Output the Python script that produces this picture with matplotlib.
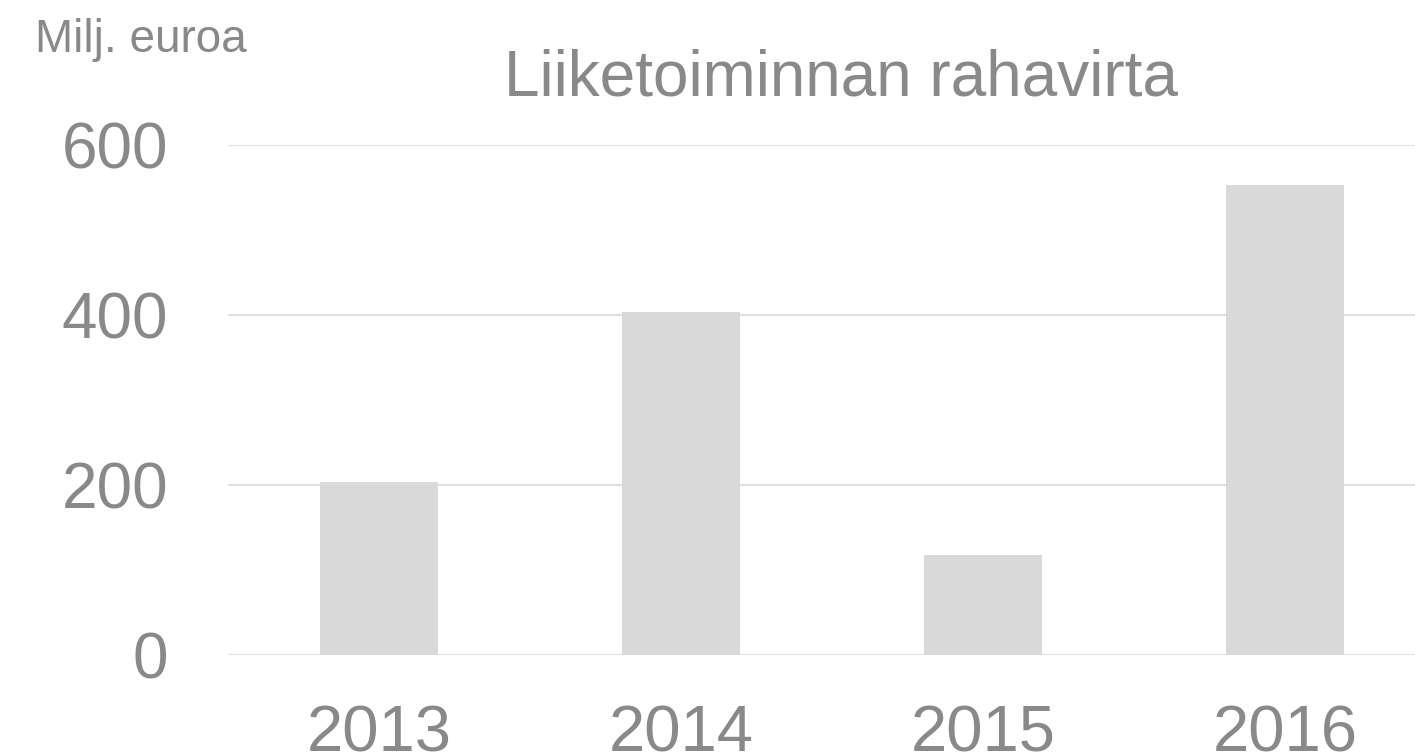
import numpy as np
import matplotlib
matplotlib.use('Agg')
from matplotlib import pyplot as plt

plt.rcParams['font.family'] = ['Liberation Sans', 'DejaVu Sans']

years = ['2013', '2014', '2015', '2016']
cash_flow = [203, 403, 118, 553]
y_ticks = [0, 200, 400, 600]

text_col = '#898989'
bar_col = '#d9d9d9'
grid_col = '#e0e0e0'

fig = plt.figure(figsize=(14.15, 7.55), dpi=100)
ax = fig.add_axes([228/1415, 100/755, 1208/1415, 510/755])

index = np.arange(len(years))
ax.bar(index, cash_flow, width=0.393, color=bar_col, zorder=2)

ax.set_xlim(-0.5, 3.5)
ax.set_ylim(0, 600)
ax.set_yticks(y_ticks)
ax.set_xticks(index)
ax.set_xticklabels(years)
ax.grid(axis='y', color=grid_col, linewidth=1.5, zorder=0)
ax.tick_params(axis='both', length=0, labelsize=46, labelcolor=text_col)
ax.tick_params(axis='y', pad=43)
ax.tick_params(axis='x', labelsize=47, pad=36)
for s in ax.spines.values():
    s.set_visible(False)
ax.set_axisbelow(True)

fig.text(841/1415, 1 - 78/755, 'Liiketoiminnan rahavirta', ha='center', va='center',
         fontsize=46, color=text_col)
fig.text(35/1415, 1 - 40/755, 'Milj. euroa', ha='left', va='center',
         fontsize=33, color=text_col)

plt.savefig('out.png', dpi=100)
